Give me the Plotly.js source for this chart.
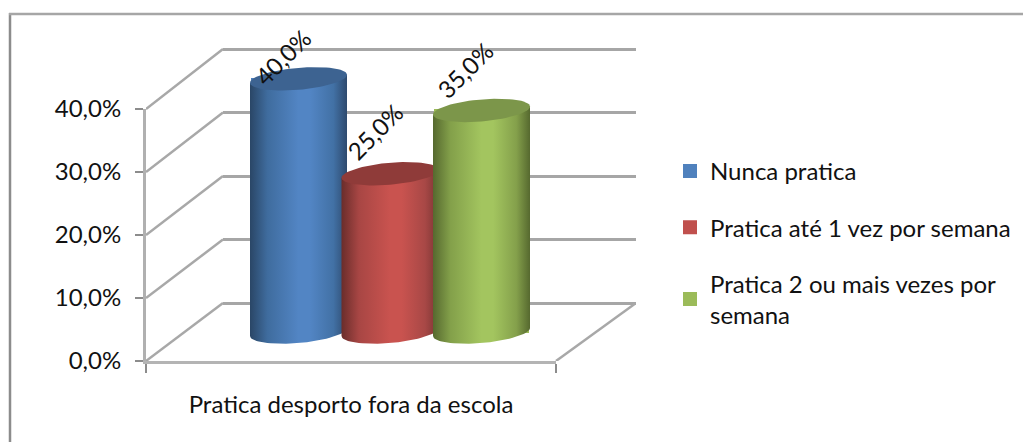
<!DOCTYPE html>
<html>
<head>
<meta charset="utf-8">
<script src="https://cdn.plot.ly/plotly-3.0.1.min.js"></script>
<style>html,body{margin:0;padding:0;background:#fff}#chart{width:1023px;height:442px}</style>
</head>
<body>
<div id="chart"></div>
<script>
// Survey result: how often pupils play sport outside school
const categories = ["Pratica desporto fora da escola"];
const seriesNames = ["Nunca pratica", "Pratica até 1 vez por semana", "Pratica 2 ou mais vezes por<br>semana"];
const seriesValues = [40, 25, 35];
const axisTicks = [0, 10, 20, 30, 40];

const baseColors = ["#4f81bd", "#c0504d", "#9bbb59"];
const capColors = ["#3d6391", "#8f3b39", "#7c964a"];
const bodyGradients = [
  ["#2a4666", "#3f6c9e", "#5285c4", "#5285c4", "#4271a5", "#2e4a6e"],
  ["#6a2d2b", "#a84644", "#c9534f", "#c9534f", "#a84846", "#7a3533"],
  ["#56692f", "#83a04a", "#a3c55f", "#a3c55f", "#84a04b", "#56692f"]
];
const gradientStops = [0, 0.18, 0.5, 0.62, 0.86, 1];

// Page geometry in pixels, turned into axis domains below
const W = 1023, H = 442;
const dx = (a, b) => [a / W, b / W];
const dy = (bottom, top) => [1 - bottom / H, 1 - top / H];

// Cylinder proportions, in units of the cylinder axes
const pxPerUnitX = 91.5, pxPerUnitY = 6.33;
const radiusX = 48.5 / pxPerUnitX;
const radiusY = 11 / pxPerUnitY;
const tilt = 4 / pxPerUnitY;

function ellipsePoint(cx, cy, t) {
  return [cx + radiusX * Math.cos(t), cy + radiusY * Math.sin(t) + tilt * Math.cos(t)];
}
function capOutline(cx, cy) {
  const xs = [], ys = [];
  for (let i = 0; i <= 72; i++) {
    const p = ellipsePoint(cx, cy, i / 72 * 2 * Math.PI);
    xs.push(p[0]); ys.push(p[1]);
  }
  return { x: xs, y: ys };
}
function bodyOutline(cx, value) {
  const xs = [], ys = [];
  // lower rim runs round the front of the base, then up the right side and back down the left
  for (let i = 0; i <= 36; i++) {
    const p = ellipsePoint(cx, 0, Math.PI + i / 36 * Math.PI);
    xs.push(p[0]); ys.push(p[1]);
  }
  xs.push(cx + radiusX, cx - radiusX);
  ys.push(value + tilt, value - tilt);
  return { x: xs, y: ys };
}

const traces = [];
// Empty traces keep the wall and front axes alive
traces.push({ x: [0], y: [0], xaxis: "x", yaxis: "y", mode: "none", showlegend: false, hoverinfo: "skip" });

// Receding side-wall and floor edges
const wallLines = { x: [], y: [] };
const frontScale = 6.3, backScale = 6.35, backLift = 58, backShift = 77, frontWidth = 410, backWidth = 413;
axisTicks.forEach(v => {
  wallLines.x.push(0, backShift, null);
  wallLines.y.push(v * frontScale, backLift + v * backScale, null);
});
wallLines.x.push(frontWidth, backShift + backWidth);
wallLines.y.push(0, backLift);
traces.push({ x: wallLines.x, y: wallLines.y, xaxis: "x2", yaxis: "y2", mode: "lines",
  line: { color: "#a8a8a8", width: 2.5 }, showlegend: false, hoverinfo: "skip" });

traces.push({ x: categories, y: [0], xaxis: "x3", yaxis: "y3", mode: "none", showlegend: false, hoverinfo: "skip" });

// Plain bars carry the values and the legend swatches; the shaded cylinders sit on top
seriesValues.forEach((v, i) => {
  traces.push({ type: "bar", x: [i], y: [v], width: 1.9 * radiusX, xaxis: "x4", yaxis: "y4",
    name: seriesNames[i], legendgroup: "s" + i,
    marker: { color: baseColors[i], line: { color: baseColors[i], width: 2 } },
    hovertemplate: seriesNames[i] + ": %{y}%<extra></extra>" });
});
seriesValues.forEach((v, i) => {
  const body = bodyOutline(i, v);
  traces.push({ x: body.x, y: body.y, xaxis: "x4", yaxis: "y4", mode: "lines", fill: "toself",
    line: { width: 0 }, showlegend: false, hoverinfo: "skip",
    fillgradient: { type: "horizontal",
      colorscale: gradientStops.map((s, k) => [s, bodyGradients[i][k]]) } });
  const cap = capOutline(i, v);
  traces.push({ x: cap.x, y: cap.y, xaxis: "x4", yaxis: "y4", mode: "lines", fill: "toself",
    fillcolor: capColors[i], line: { width: 0 }, showlegend: false, hoverinfo: "skip" });
});

const labelFont = { family: "Lato, sans-serif", size: 24, color: "#111" };
const formatPct = v => v.toFixed(1).replace(".", ",") + "%";
const labelLift = [21, 42, 40];
const labelSlide = [-16, -15, -17];

const layout = {
  width: W, height: H,
  margin: { l: 0, r: 0, t: 0, b: 0 },
  paper_bgcolor: "#fff", plot_bgcolor: "rgba(0,0,0,0)",
  font: labelFont,
  bargap: 0,
  // Back wall with its horizontal gridlines; one spare unit each way keeps the end lines drawn
  xaxis: { domain: dx(223, 636), range: [0, 1], visible: false, anchor: "y", fixedrange: true },
  yaxis: { domain: dy(309.35, 42.65), range: [-1, 41], tickvals: axisTicks, showticklabels: false, ticks: "",
    showgrid: true, gridcolor: "#a6a6a6", gridwidth: 2.5, zeroline: false, showline: false, anchor: "x", fixedrange: true },
  // Shear space for the receding edges
  xaxis2: { domain: dx(146, 636), range: [0, 490], visible: false, anchor: "y2", fixedrange: true },
  yaxis2: { domain: dy(361, 48), range: [0, 313], visible: false, anchor: "x2", fixedrange: true },
  // Front axis with tick labels and the category label
  xaxis3: { domain: dx(146, 556), type: "category", categoryorder: "array", categoryarray: categories,
    range: [-0.5, 0.5], tickson: "boundaries", ticks: "outside", ticklen: 9, tickcolor: "#8c8c8c", tickwidth: 2,
    showline: true, linecolor: "#b4b4b4", linewidth: 3, showgrid: false, zeroline: false, anchor: "y3",
    ticklabelstandoff: 20, tickfont: labelFont, fixedrange: true },
  yaxis3: { domain: dy(361, 109), range: [0, 40], tickvals: axisTicks, ticktext: axisTicks.map(formatPct),
    ticks: "outside", ticklen: 8, tickcolor: "#8c8c8c", tickwidth: 2, anchor: "x3",
    showline: true, linecolor: "#b0b0b0", linewidth: 3, showgrid: false, zeroline: false,
    ticklabelstandoff: 9, tickfont: labelFont, fixedrange: true },
  // Cylinders: series index across, percentage up, base ellipse centred on zero
  xaxis4: { domain: dx(146, 636), range: [(146 - 298.5) / pxPerUnitX, (636 - 298.5) / pxPerUnitX], visible: false, anchor: "y4", fixedrange: true },
  yaxis4: { domain: dy(346, 20), range: [-14 / pxPerUnitY, 312 / pxPerUnitY], visible: false, anchor: "x4", fixedrange: true },
  legend: { x: 670 / W, xanchor: "left", y: 1 - 149 / H, yanchor: "top", traceorder: "grouped",
    tracegroupgap: 22, font: labelFont, itemwidth: 30, bgcolor: "rgba(0,0,0,0)", itemclick: false, itemdoubleclick: false },
  shapes: [
    { type: "line", xref: "paper", yref: "paper", x0: 10 / W, x1: 10 / W, y0: 0, y1: 1 - 13 / H, line: { color: "#8c8c8c", width: 2.5 } },
    { type: "line", xref: "paper", yref: "paper", x0: 9 / W, x1: 1, y0: 1 - 14 / H, y1: 1 - 14 / H, line: { color: "#a6a6a6", width: 2.5 } }
  ],
  annotations: seriesValues.map((v, i) => ({
    x: i, y: v, xref: "x4", yref: "y4", text: formatPct(v), showarrow: false,
    textangle: -45, xshift: labelSlide[i], yshift: labelLift[i], font: labelFont,
    xanchor: "center", yanchor: "middle"
  }))
};

Plotly.newPlot("chart", traces, layout, { displayModeBar: false, responsive: false });
</script>
</body>
</html>
